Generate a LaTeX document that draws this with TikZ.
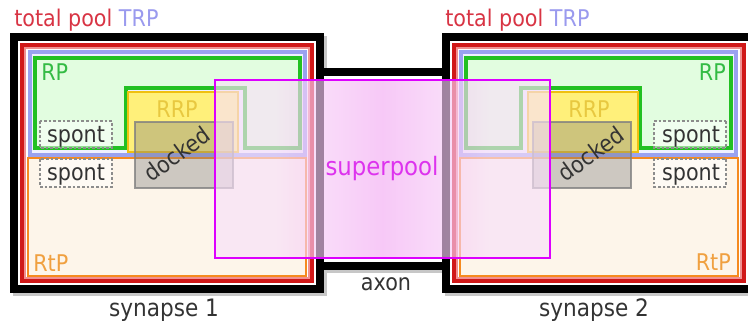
\documentclass[tikz,border=0pt]{standalone}
\usepackage{fontspec}
\setmainfont{DejaVu Sans}[FakeStretch=0.9]
\definecolor{tpred}{HTML}{D83444}
\definecolor{trpblue}{HTML}{9A9AEE}
\definecolor{redline}{HTML}{D01818}
\definecolor{pinkline}{HTML}{F09090}
\definecolor{blueline}{HTML}{9AA2F0}
\definecolor{bluefill}{HTML}{EEF0FF}
\definecolor{greenline}{HTML}{22C022}
\definecolor{greenfill}{HTML}{E2FDE0}
\definecolor{greentext}{HTML}{33BB44}
\definecolor{yelfill}{HTML}{FFF07A}
\definecolor{yelline}{HTML}{F0C010}
\definecolor{yeltext}{HTML}{E8C840}
\definecolor{orline}{HTML}{F58A1F}
\definecolor{orfill}{HTML}{FDF5EA}
\definecolor{ortext}{HTML}{F0A040}
\definecolor{magline}{HTML}{DD00FF}
\definecolor{magtext}{HTML}{DD33EE}
\definecolor{spedge}{HTML}{F8E0F8}
\definecolor{spmid}{HTML}{F4ACF4}
\definecolor{txtgray}{HTML}{333333}
\pgfdeclarehorizontalshading{supshade}{100bp}{color(0bp)=(spedge); color(25bp)=(spedge); color(34bp)=(spedge); color(50bp)=(spmid); color(66bp)=(spedge); color(75bp)=(spedge); color(100bp)=(spedge)}
\tikzset{
  blackline/.style={draw=black, line width=6pt, fill=white},
  shadowline/.style={draw=black!22, line width=6pt},
  axonline/.style={draw=black, line width=6pt},
  redbox/.style={draw=redline, line width=3pt},
  pinkbox/.style={draw=pinkline, line width=1pt},
  bluebox/.style={draw=blueline, line width=3pt, fill=bluefill},
  greenbox/.style={draw=greenline, line width=2.6pt, fill=greenfill},
  yelbox/.style={draw=yelline, line width=2.2pt, fill=yelfill},
  dockbox/.style={draw=black!50, draw opacity=0.8, line width=2.2pt, fill=black!50, fill opacity=0.38},
  orbox/.style={draw=orline, line width=2.2pt, fill=orfill},
  spontbox/.style={draw=black!45, dashed, dash pattern=on 2pt off 1.5pt, line width=1pt, fill=white, fill opacity=0.5},
  supline/.style={draw=magline, line width=2.2pt},
  lbl/.style={inner sep=0pt, font=\fontsize{17.25}{20}\selectfont},
}
\newcommand\synshapes{%
  \draw[redbox] (22,45) rectangle (312,281);
  \draw[pinkbox] (25,48) rectangle (309,278);
  \draw[bluebox] (30,52) rectangle (305,155);
  \draw[orbox] (28,158) rectangle (306,276);
  \draw[greenbox] (35,58) -- (300,58) -- (300,148) -- (245,148) -- (245,88) -- (126,88) -- (126,148) -- (35,148) -- cycle;
  \draw[yelbox] (128,92) rectangle (238,152);
  \draw[dockbox] (135,122) rectangle (233,188);
  \draw[spontbox] (40,121) rectangle (112,148);
  \draw[spontbox] (40,159) rectangle (112,187);
}
\begin{document}
\begin{tikzpicture}[x=0.75pt, y=-0.75pt]
\useasboundingbox (0,0) rectangle (748,321);
\clip (0,0) rectangle (748,321);
% drop shadow of the outline
\begin{scope}[shift={(3,3)}]
  \draw[shadowline] (14,37) rectangle (320,289);
  \draw[shadowline] (446,37) rectangle (752,289);
  \draw[shadowline] (320,72) -- (446,72) (320,266) -- (446,266);
\end{scope}
% axon tube and synapse outlines
\fill[white] (320,72) rectangle (446,266);
\draw[blackline] (14,37) rectangle (320,289);
\draw[blackline] (446,37) rectangle (752,289);
\draw[axonline] (320,72) -- (446,72) (320,266) -- (446,266);
% pools
\synshapes
\begin{scope}[shift={(766,0)}, xscale=-1]
  \synshapes
\end{scope}
% superpool
\shade[shading=supshade, fill opacity=0.65] (215,80) rectangle (550,258);
\draw[supline] (215,80) rectangle (550,258);
% labels
\node[lbl, anchor=base west] (tp1) at (14,27) {\color{tpred}total pool \color{trpblue}TRP};
\node[lbl, anchor=base west] (tp2) at (445,27) {\color{tpred}total pool \color{trpblue}TRP};
\node[lbl, anchor=base west, text=greentext] (rp1) at (41,80) {RP};
\node[lbl, anchor=base east, text=greentext] (rp2) at (726,80) {RP};
\node[lbl, anchor=base west, text=ortext] (rtp1) at (33,271) {RtP};
\node[lbl, anchor=base east, text=ortext] (rtp2) at (731,270) {RtP};
\node[lbl, anchor=base, text=yeltext] (rrp1) at (177,117) {RRP};
\node[lbl, anchor=base, text=yeltext] (rrp2) at (589,117) {RRP};
\node[lbl, text=txtgray, rotate=36] (dk1) at (177,154) {docked};
\node[lbl, text=txtgray, rotate=36] (dk2) at (591,154) {docked};
\node[lbl, anchor=base, text=txtgray] (sp1) at (76,142) {spont};
\node[lbl, anchor=base, text=txtgray] (sp2) at (76,180) {spont};
\node[lbl, anchor=base, text=txtgray] (sp3) at (691,142) {spont};
\node[lbl, anchor=base, text=txtgray] (sp4) at (691,180) {spont};
\node[inner sep=0pt, font=\fontsize{19}{22}\selectfont, anchor=base, text=magtext] (sup) at (382,175) {superpool};
\node[lbl, anchor=base, text=txtgray] (ax) at (386,290) {axon};
\node[inner sep=0pt, font=\fontsize{18}{21}\selectfont, anchor=base, text=txtgray] (syn1) at (164,316) {synapse 1};
\node[inner sep=0pt, font=\fontsize{18}{21}\selectfont, anchor=base, text=txtgray] (syn2) at (594,316) {synapse 2};
\end{tikzpicture}
\end{document}
